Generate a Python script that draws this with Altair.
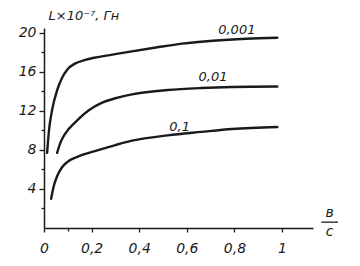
import altair as alt
import pandas as pd

# curve b/c values and L values (×10^-7 H)
x_001 = [0.013, 0.021, 0.034, 0.055, 0.076, 0.10, 0.13, 0.17, 0.21, 0.27, 0.33, 0.47, 0.58, 0.71, 0.85, 0.98]
y_001 = [7.7, 10.0, 12.1, 14.1, 15.4, 16.3, 16.85, 17.2, 17.45, 17.7, 17.95, 18.5, 18.9, 19.2, 19.4, 19.5]

x_01 = [0.055, 0.07, 0.09, 0.13, 0.19, 0.24, 0.30, 0.37, 0.52, 0.66, 0.79, 0.98]
y_01 = [7.7, 8.8, 9.7, 10.8, 12.1, 12.8, 13.3, 13.7, 14.15, 14.35, 14.45, 14.5]

x_1 = [0.03, 0.04, 0.055, 0.075, 0.10, 0.14, 0.21, 0.30, 0.37, 0.52, 0.66, 0.79, 0.98]
y_1 = [3.0, 4.2, 5.3, 6.2, 6.8, 7.3, 7.85, 8.5, 8.95, 9.5, 9.85, 10.15, 10.35]

series_names = ["0,001", "0,01", "0,1"]

# curve labels
label_text = ["0,001", "0,01", "0,1"]
label_x = [0.81, 0.71, 0.57]
label_y = [20.3, 15.5, 10.4]

# x-axis fraction title b/c
frac_text = ["в", "с"]
frac_x = [1.2, 1.2]
frac_y = [1.55, -0.45]
bar_x = [1.165]
bar_x2 = [1.235]
bar_y = [0.6]

x_ticks = [0, 0.1, 0.2, 0.4, 0.6, 0.8, 1]
y_ticks = [2, 4, 6, 8, 10, 12, 14, 16, 18, 20]

rows = []
for name, xs, ys in zip(series_names, [x_001, x_01, x_1], [y_001, y_01, y_1]):
    for i, (a, b) in enumerate(zip(xs, ys)):
        rows.append({"series": name, "x": a, "y": b, "order": i})
df = pd.DataFrame(rows)
df_lab = pd.DataFrame({"t": label_text, "x": label_x, "y": label_y})
df_frac = pd.DataFrame({"t": frac_text, "x": frac_x, "y": frac_y})
df_bar = pd.DataFrame({"x": bar_x, "x2": bar_x2, "y": bar_y})

FONT = "DejaVu Sans"
INK = "#1a1a1a"

xscale = alt.Scale(domain=[0, 1.13], nice=False, zero=False)
yscale = alt.Scale(domain=[0, 20.5], nice=False, zero=False)

xaxis = alt.Axis(
    values=x_ticks,
    labelExpr="datum.value == 0 ? '0' : datum.value == 1 ? '1' : (round(datum.value * 10) % 2 == 1) ? '' : replace(format(datum.value, '.1f'), '.', ',')",
    title=None, grid=False,
    domainColor=INK, domainWidth=1.5, tickColor=INK, tickWidth=1.3,
    tickSize={"condition": {"test": "round(datum.value * 10) % 2 == 1", "value": 3}, "value": 4},
    labelFont=FONT, labelFontStyle="italic", labelFontSize=14, labelColor=INK,
    labelPadding=9, labelFlush=False, labelOverlap=False,
)
yaxis = alt.Axis(
    values=y_ticks,
    labelExpr="datum.value % 4 == 0 ? datum.label : ''",
    title="L×10⁻⁷, Гн", titleAngle=0, titleAlign="left", titleBaseline="middle",
    titleX=4, titleY=-13, titleFont=FONT, titleFontStyle="italic", titleFontWeight="normal",
    titleFontSize=13, titleColor=INK,
    grid=False, domainColor=INK, domainWidth=1.5, tickColor=INK, tickWidth=1.3,
    tickSize={"condition": {"test": "datum.value % 4 == 0", "value": 5}, "value": 3},
    labelFont=FONT, labelFontStyle="italic", labelFontSize=14, labelColor=INK,
    labelAlign="right", labelBaseline="middle",
    labelPadding=3, labelOverlap=False, labelFlush=False,
)

lines = alt.Chart(df).mark_line(
    color=INK, strokeWidth=2.4, interpolate="monotone", strokeCap="round"
).encode(
    x=alt.X("x:Q", scale=xscale, axis=xaxis),
    y=alt.Y("y:Q", scale=yscale, axis=yaxis),
    detail="series:N",
    order="order:Q",
)

labels = alt.Chart(df_lab).mark_text(
    font=FONT, fontStyle="italic", fontSize=13, color=INK, align="center", baseline="middle"
).encode(x=alt.X("x:Q", scale=xscale, axis=xaxis), y=alt.Y("y:Q", scale=yscale, axis=yaxis), text="t:N")

frac = alt.Chart(df_frac).mark_text(
    font=FONT, fontStyle="italic", fontSize=14, color=INK, align="center", baseline="middle"
).encode(x=alt.X("x:Q", scale=xscale, axis=xaxis), y=alt.Y("y:Q", scale=yscale, axis=yaxis), text="t:N")

bar = alt.Chart(df_bar).mark_rule(color=INK, strokeWidth=1.3).encode(
    x=alt.X("x:Q", scale=xscale, axis=xaxis), x2="x2:Q", y=alt.Y("y:Q", scale=yscale, axis=yaxis)
)

chart = alt.layer(lines, labels, frac, bar).properties(
    width=269, height=200,
    autosize=alt.AutoSizeParams(type="none"),
    padding={"left": 44, "top": 28, "right": 47, "bottom": 38},
    background="white",
).configure_view(stroke=None)

chart.save("out.html", embed_options={"renderer": "svg", "actions": False})
